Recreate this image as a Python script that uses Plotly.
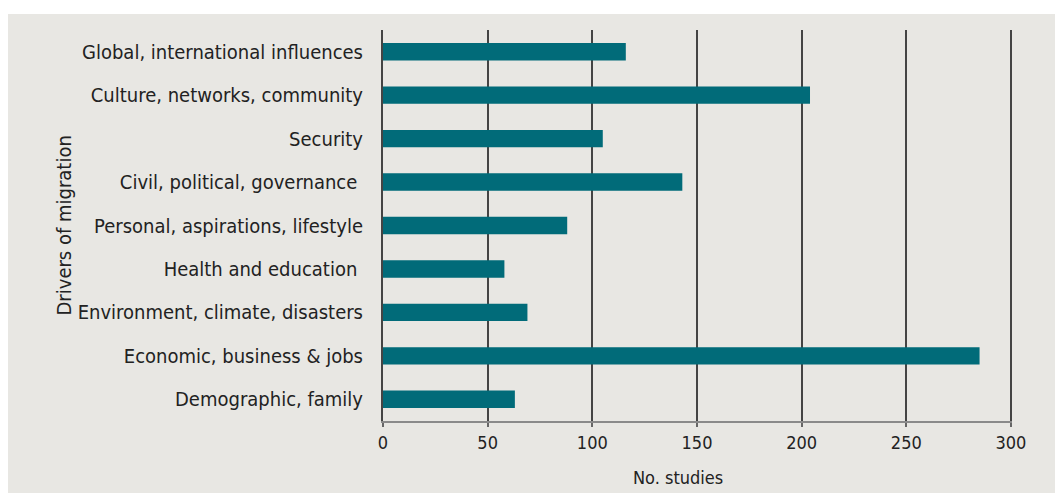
import plotly.graph_objects as go

categories = [
    "Demographic, family",
    "Economic, business & jobs",
    "Environment, climate, disasters",
    "Health and education ",
    "Personal, aspirations, lifestyle",
    "Civil, political, governance ",
    "Security",
    "Culture, networks, community",
    "Global, international influences",
]
studies = [63, 285, 69, 58, 88, 143, 105, 204, 116]
x_ticks = [0, 50, 100, 150, 200, 250, 300]

W, H = 1055, 493
L, R, T, B = 383, 43, 30, 72
FONT = "DejaVu Sans Condensed, DejaVu Sans, sans-serif"
PANEL = "#e8e7e3"

pw = W - L - R
ph = H - T - B

fig = go.Figure(go.Bar(
    x=studies, y=categories, orientation="h",
    marker=dict(color="#016b79", line=dict(width=0)),
    width=0.4,
))

fig.update_layout(
    width=W, height=H,
    margin=dict(l=L, r=R, t=T, b=B),
    paper_bgcolor="white",
    plot_bgcolor=PANEL,
    showlegend=False,
    font=dict(family=FONT, size=20, color="#222222"),
    shapes=[dict(
        type="rect", xref="paper", yref="paper", layer="below",
        x0=(8 - L) / pw, x1=(W - L) / pw + 0.01,
        y0=-(H - T - ph) / ph - 0.01, y1=(H - 14 - B) / ph,
        fillcolor=PANEL, line=dict(width=0),
    )],
    xaxis=dict(
        range=[0, 300.5], tickvals=x_ticks, ticktext=[str(v) for v in x_ticks],
        showgrid=True, gridcolor="#444444", gridwidth=2,
        zeroline=False,
        showline=True, linecolor="#8a8a8a", linewidth=2,
        ticks="outside", ticklen=4, tickwidth=2, tickcolor="#666666",
        tickfont=dict(size=18),
        fixedrange=True,
    ),
    yaxis=dict(
        categoryorder="array", categoryarray=categories,
        showgrid=False, zeroline=False,
        showline=True, linecolor="#444444", linewidth=2,
        ticks="", ticklabelstandoff=14,
        tickfont=dict(size=20),
        fixedrange=True,
    ),
    annotations=[
        dict(text="No. studies", xref="paper", x=(678 - L) / pw,
             y=-(477 - T - ph) / ph, yref="paper",
             showarrow=False, font=dict(size=18), xanchor="center", yanchor="middle"),
        dict(text="Drivers of migration", x=(63 - L) / pw, xref="paper",
             y=0.5, yref="paper", textangle=-90,
             showarrow=False, font=dict(size=20), xanchor="center", yanchor="middle"),
    ],
)

fig.write_html("out.html")
